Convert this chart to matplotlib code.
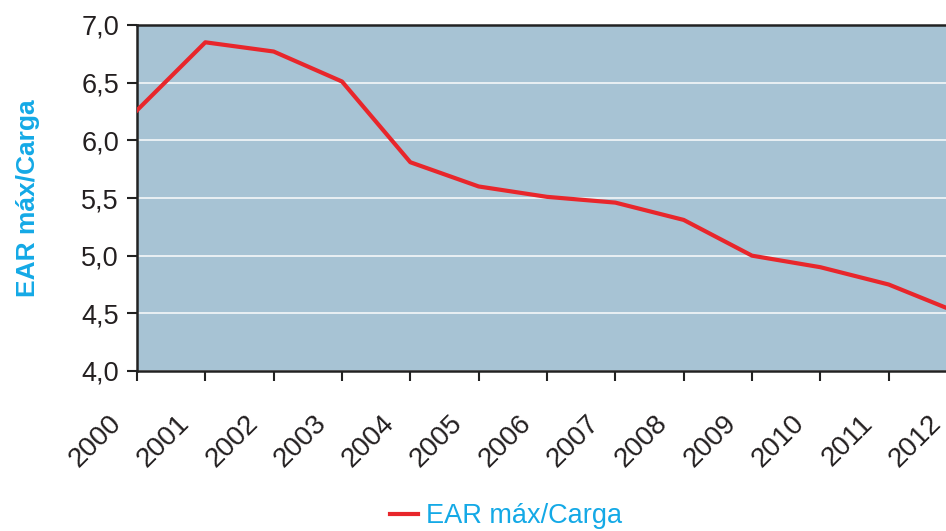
import matplotlib
matplotlib.use("Agg")
import matplotlib.pyplot as plt
from matplotlib.ticker import FixedLocator, FuncFormatter
from matplotlib.transforms import ScaledTranslation

years = [2000, 2001, 2002, 2003, 2004, 2005, 2006, 2007, 2008, 2009, 2010, 2011, 2012]
values = [6.26, 6.85, 6.77, 6.51, 5.81, 5.60, 5.51, 5.46, 5.31, 5.00, 4.90, 4.75, 4.51]
series_label = "EAR máx/Carga"
y_label = "EAR máx/Carga"
y_ticks = [4.0, 4.5, 5.0, 5.5, 6.0, 6.5, 7.0]

plt.rcParams['font.family'] = ['Liberation Sans', 'DejaVu Sans']

fig = plt.figure(figsize=(9.46, 5.31), dpi=100)
ax = fig.add_axes([137/946, 1 - 371/531, (957 - 137)/946, (371 - 25)/531])
ax.set_facecolor('#a7c3d4')

line, = ax.plot(years, values, color='#e8262b', lw=3.0, label=series_label, zorder=3)

ax.set_xlim(years[0], years[-1])
ax.set_ylim(y_ticks[0], y_ticks[-1])
ax.yaxis.set_major_locator(FixedLocator(y_ticks))
ax.yaxis.set_major_formatter(FuncFormatter(lambda v, p: f"{v:.1f}".replace('.', ',')))
ax.xaxis.set_major_locator(FixedLocator(years))
ax.set_xticklabels([str(y) for y in years], rotation=45, ha='right', va='top',
                   rotation_mode='anchor')

ax.grid(axis='y', color='#eef3f6', lw=1.3)
ax.set_axisbelow(True)
for s in ['left', 'bottom', 'top']:
    ax.spines[s].set_color('#222222')
    ax.spines[s].set_linewidth(1.8)
ax.spines['right'].set_visible(False)

ax.tick_params(axis='both', direction='out', length=7, width=1.5, color='#222222',
               labelsize=20, labelcolor='#231f20')
ax.tick_params(axis='y', labelsize=19.5, pad=6)
ax.tick_params(axis='x', pad=4)

offset = ScaledTranslation(-29/100, -24/100, fig.dpi_scale_trans)
for lab in ax.get_xticklabels():
    lab.set_transform(lab.get_transform() + offset)

ax.set_ylabel(y_label, color='#14a9e6', fontsize=19, fontweight='bold', labelpad=30)

leg = fig.legend(handles=[line], loc='center', bbox_to_anchor=(0.535, 0.028), frameon=False,
                 fontsize=19.5, handlelength=1.0, handletextpad=0.3)
for t in leg.get_texts():
    t.set_color('#14a9e6')

fig.savefig('out.png', dpi=100)
